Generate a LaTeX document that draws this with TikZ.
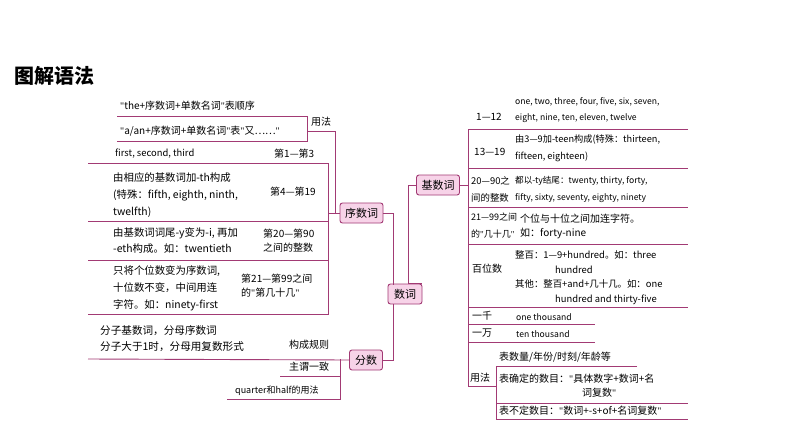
\documentclass[tikz,border=0pt]{standalone}
\usepackage{fontspec}
\setmainfont{Noto Sans CJK SC}
\newfontfamily\lat{Liberation Serif}
\newcommand{\qq}{{\lat"}}
\definecolor{ln}{HTML}{A23A74}
\definecolor{bx}{HTML}{F7D3E8}
\begin{document}
\begin{tikzpicture}[x=1pt,y=-1pt,
  L/.style={draw=ln,line width=0.9pt},
  hub/.style={draw=ln,fill=bx,rounded corners=2.5pt,line width=0.9pt,minimum height=20pt,inner sep=2pt,font=\fontsize{11}{12}\selectfont},
  tx/.style={anchor=west,inner sep=0pt,font=\fontsize{10}{14}\selectfont,align=left},
  te/.style={anchor=west,inner sep=0pt,font=\fontsize{8.6}{16}\selectfont,align=left}]
\useasboundingbox[fill=white] (0,0) rectangle (794,447);
\node[anchor=west,inner sep=0pt,font=\fontsize{20}{22}\selectfont\bfseries] (title) at (14,76) {图解语法};
% hubs
\node[hub,minimum width=43pt] (xu) at (361.5,213) {序数词};
\node[hub,minimum width=43pt] (ji) at (438,185) {基数词};
\node[hub,minimum width=34pt] (shu) at (405,294) {数词};
\node[hub,minimum width=33pt] (fen) at (366,360) {分数};
\coordinate (a1) at (408,185);
\draw[L] (ji.west) -- (a1) |- (shu.north east) ;
\draw[L] (xu.east) -- (393,213) -- (393,284.5);
\draw[L] (fen.east) -- (393,360) -- (393,303.5);
% ordinal usage
\node[tx] (u1) at (120,106) {\qq the+序数词+单数名词\qq 表顺序};
\node[tx] (u2) at (120,131) {\qq a/an+序数词+单数名词\qq 表\qq 又……\qq};
\node[tx] (yf) at (311,122) {用法};
\draw[L] (117,116) -- (307,116) -- (307,141) -- (117,141);
\draw[L] (307,131) -- (335,131) -- (335,213) -- (xu.west);
% ordinal rows
\node[te,font=\fontsize{9.4}{16}\selectfont] (f1) at (115,154) {first, second, third};
\node[tx] (f1r) at (274,154) {第1—第3};
\node[tx,font=\fontsize{10.4}{17}\selectfont] (f2) at (113,195) {由相应的基数词加-th构成\\(特殊：fifth, eighth, ninth,\\twelfth)};
\node[tx] (f2r) at (270,192) {第4—第19};
\node[tx,font=\fontsize{10.4}{16}\selectfont] (f3) at (113,241) {由基数词词尾-y变为-i, 再加\\-eth构成。如：twentieth};
\node[tx] (f3r) at (263,241) {第20—第90\\之间的整数};
\node[tx,font=\fontsize{10.4}{17}\selectfont] (f4) at (113,288) {只将个位数变为序数词,\\十位数不变，中间用连\\字符。如：ninety-first};
\node[tx] (f4r) at (241,286) {第21—第99之间\\的\qq 第几十几\qq};
\draw[L] (88,163) -- (328,163) -- (328,314) -- (88,314);
\draw[L] (88,221) -- (328,221);
\draw[L] (88,260) -- (328,260);
\draw[L] (328,213) -- (xu.west);
% fractions
\node[tx,font=\fontsize{10.6}{16}\selectfont] (g1) at (100,339) {分子基数词，分母序数词\\分子大于1时，分母用复数形式};
\node[tx] (g1r) at (289,345) {构成规则};
\node[tx] (g2) at (289,367) {主谓一致};
\node[tx,font=\fontsize{9}{11}\selectfont] (g3) at (235,391) {quarter和half的用法};
\draw[L] (88,359) -- (fen.west);
\draw[L] (340,359) -- (340,399) -- (227,399);
\draw[L] (340,376) -- (280,376);
% cardinal rows
\draw[L] (ji.east) -- (468,185);
\draw[L] (688,129) -- (468,129) -- (468,386) -- (496,386);
\foreach \y in {168,207,244,307} \draw[L] (468,\y) -- (688,\y);
\draw[L] (468,324) -- (595,324);
\draw[L] (468,342) -- (595,342);
\node[tx] (c1) at (476,117) {1—12};
\node[te] (c1t) at (515,110) {one, two, three, four, five, six, seven,\\eight, nine, ten, eleven, twelve};
\node[tx] (c2) at (474,152) {13—19};
\node[tx,font=\fontsize{9.2}{17}\selectfont] (c2t) at (515,148) {由3—9加-teen构成(特殊：thirteen,\\fifteen, eighteen)};
\node[tx,font=\fontsize{9.4}{17}\selectfont] (c3) at (471,189) {20—90之\\间的整数};
\node[tx,font=\fontsize{8.6}{17}\selectfont] (c3t) at (515,189) {都以-ty结尾：twenty, thirty, forty,\\fifty, sixty, seventy, eighty, ninety};
\node[tx,font=\fontsize{9}{17}\selectfont] (c4) at (471,226) {21—99之间\\的\qq 几十几\qq};
\node[tx] (c4t) at (520,226) {个位与十位之间加连字符。\\如：forty-nine};
\node[tx] (c5) at (472,269) {百位数};
\node[tx,font=\fontsize{9.4}{15}\selectfont] (c5a) at (515,262) {整百：1—9+hundred。如：three\\\hspace*{40pt}hundred};
\node[tx,font=\fontsize{9.4}{15}\selectfont] (c5b) at (515,292) {其他：整百+and+几十几。如：one\\\hspace*{40pt}hundred and thirty-five};
\node[tx] (c6) at (472,316) {一千};
\node[te] (c6t) at (516,317) {one thousand};
\node[tx] (c7) at (472,333) {一万};
\node[te] (c7t) at (516,334) {ten thousand};
% usage
\node[tx] (y0) at (470,378) {用法};
\draw[L] (637,366) -- (496,366) -- (496,419) -- (688,419);
\draw[L] (496,403) -- (688,403);
\node[tx] (y1) at (499,357) {表数量/年份/时刻/年龄等};
\node[tx] (y2) at (499,386) {表确定的数目：\qq 具体数字+数词+名\\\hspace*{83pt}词复数\qq};
\node[tx] (y3) at (499,411) {表不定数目：\qq 数词+-s+of+名词复数\qq};
\end{tikzpicture}
\end{document}
